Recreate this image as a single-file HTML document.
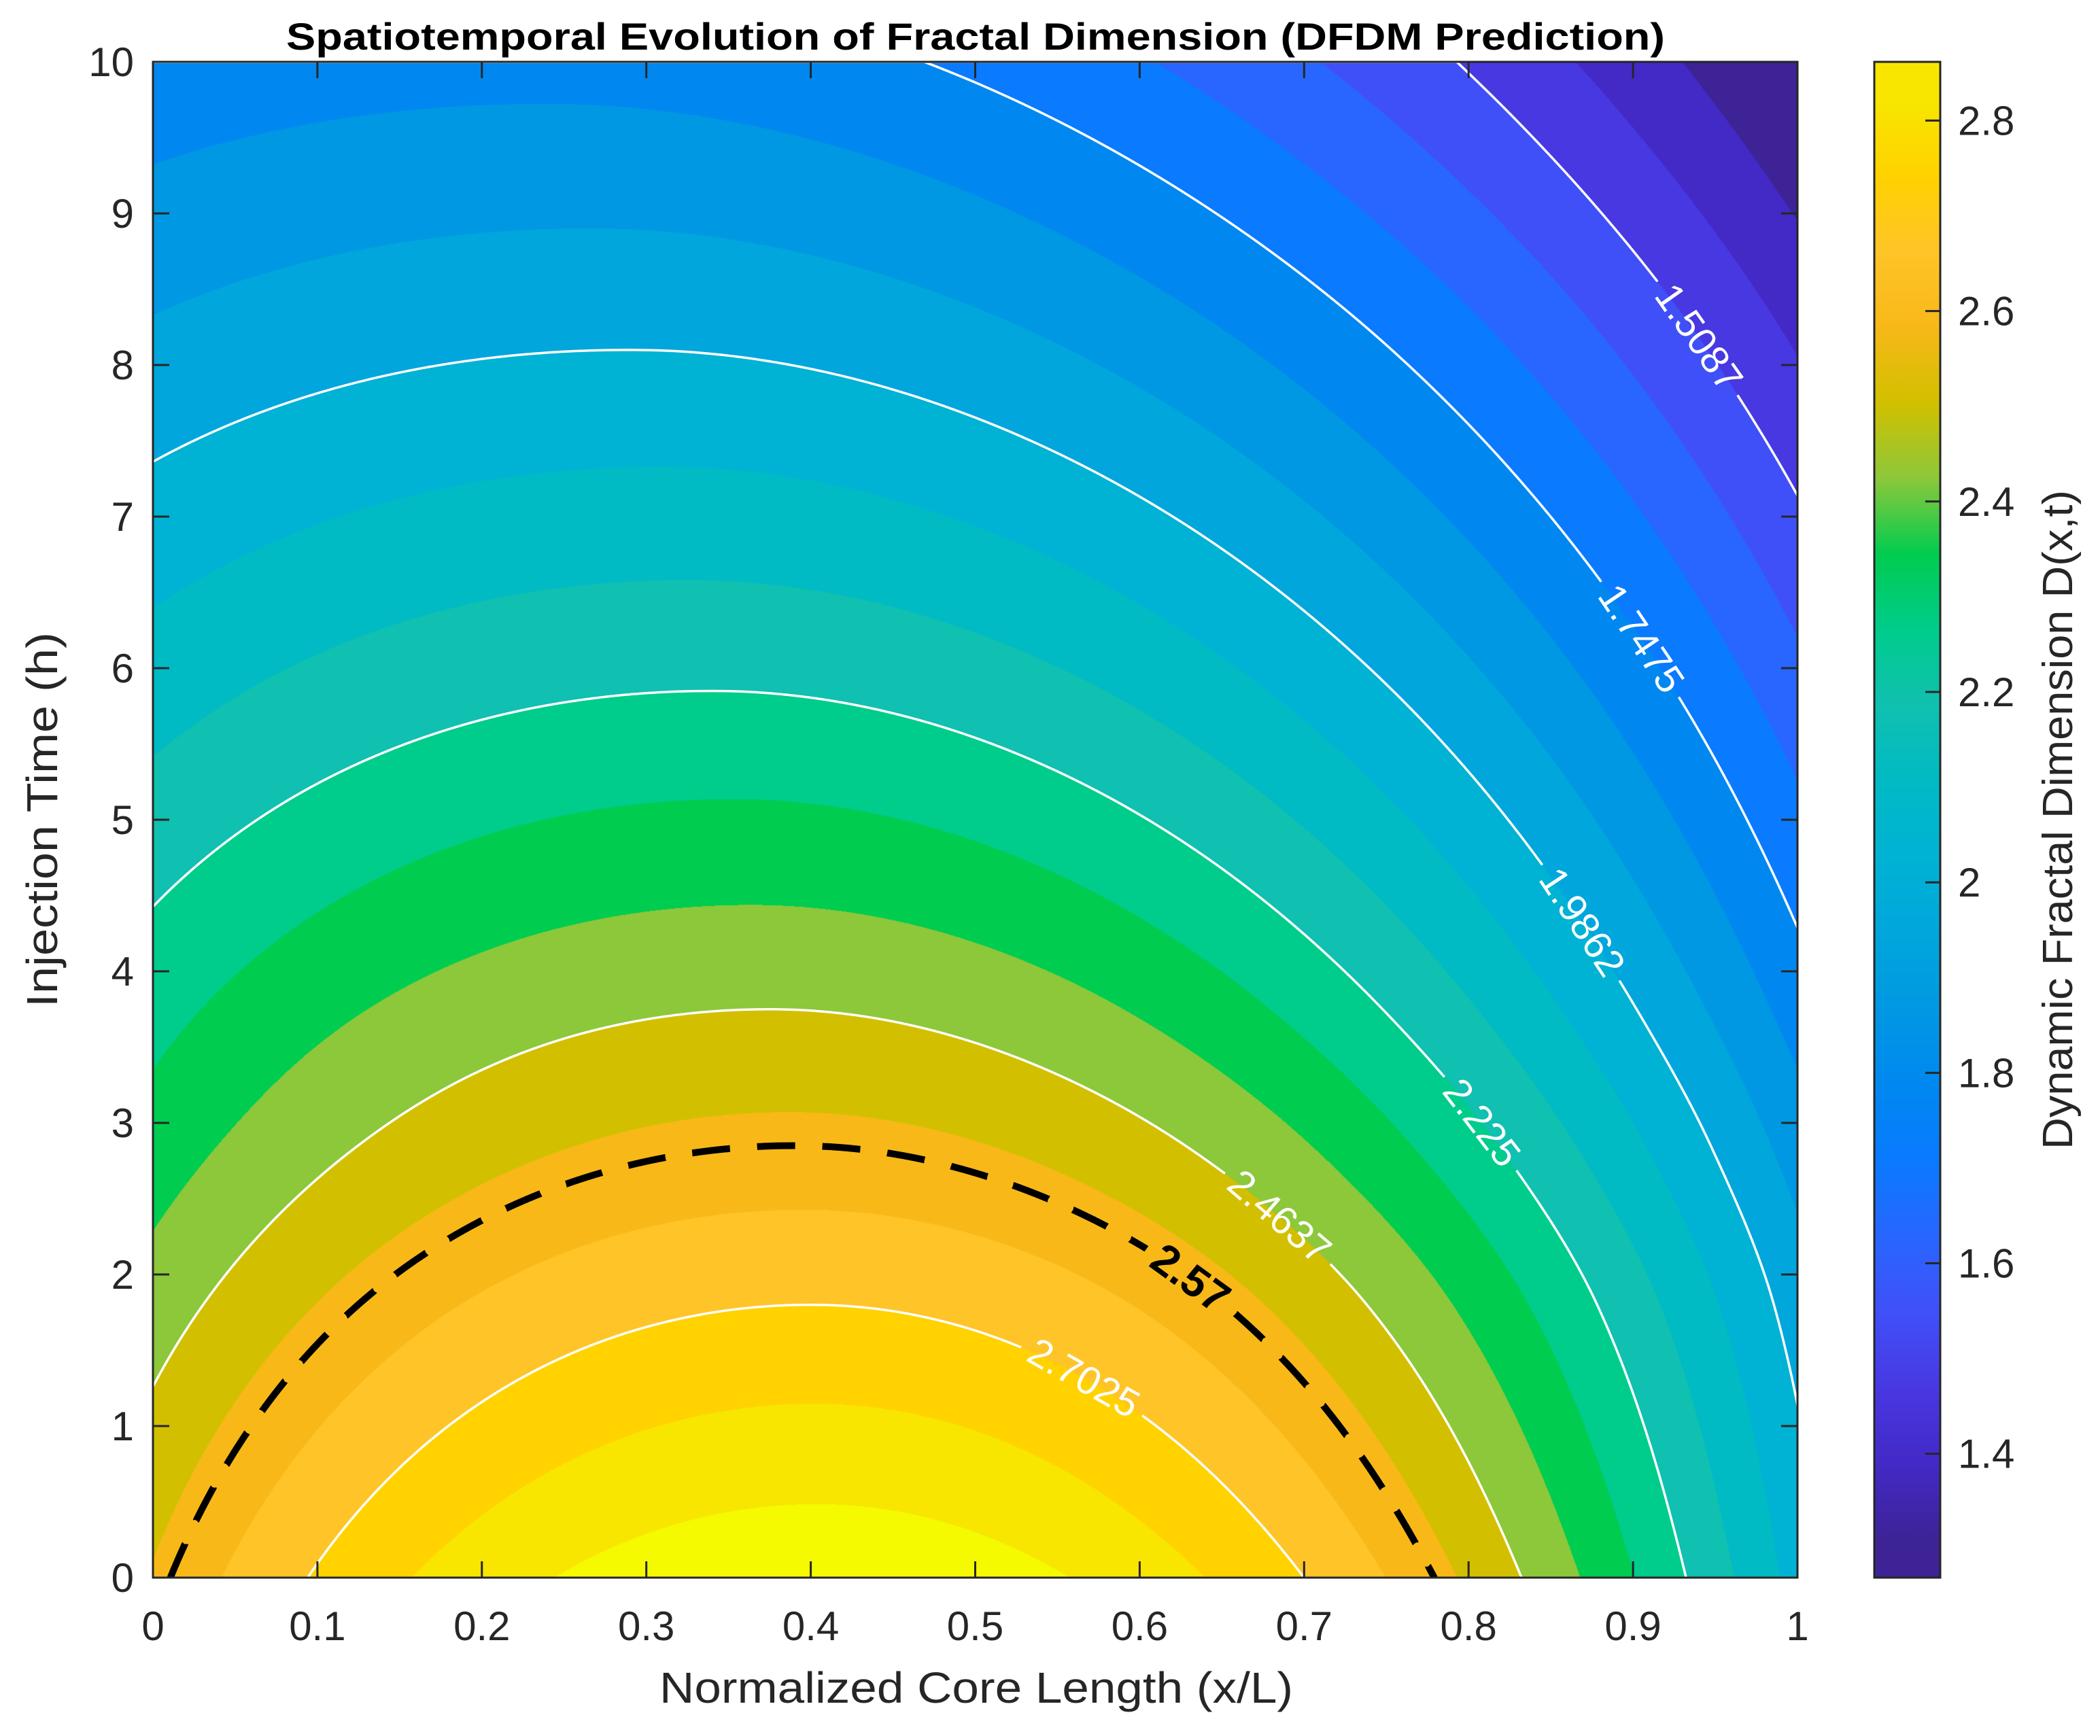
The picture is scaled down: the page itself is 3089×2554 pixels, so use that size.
<!DOCTYPE html>
<html><head><meta charset="utf-8"><style>
html,body{margin:0;padding:0;background:#fff;}
#wrap{position:relative;width:3089px;height:2554px;overflow:hidden;font-family:"Liberation Sans",Arial,sans-serif;}
#field{position:absolute;left:225px;top:91px;}
#ov{position:absolute;left:0;top:0;}
</style></head><body>
<div id="wrap">
<canvas id="field" width="2419" height="2230"></canvas>
<svg id="ov" width="3089" height="2554" xmlns="http://www.w3.org/2000/svg">
<defs>
<clipPath id="pc"><rect x="225" y="91" width="2419" height="2230"/></clipPath>
<mask id="lblmask" maskUnits="userSpaceOnUse" x="0" y="0" width="3089" height="2554"><rect x="0" y="0" width="3089" height="2554" fill="#fff"/><g id="maskholes"></g></mask>
<linearGradient id="cbgrad" x1="0" y1="1" x2="0" y2="0"></linearGradient>
</defs>
<text x="1435" y="73" text-anchor="middle" font-size="56" font-weight="bold" textLength="2028" lengthAdjust="spacingAndGlyphs" fill="#000">Spatiotemporal Evolution of Fractal Dimension (DFDM Prediction)</text>
<g id="lines" clip-path="url(#pc)"><g id="linesm" mask="url(#lblmask)"></g></g>
<g id="labels"></g>
<rect x="225" y="91" width="2419" height="2230" fill="none" stroke="#262626" stroke-width="3"/>
<g id="ticks"></g>
<text x="1436" y="2505" text-anchor="middle" font-size="64" fill="#262626" textLength="932" lengthAdjust="spacingAndGlyphs">Normalized Core Length (x/L)</text>
<text transform="translate(84,1206) rotate(-90)" text-anchor="middle" font-size="64" fill="#262626" textLength="552" lengthAdjust="spacingAndGlyphs">Injection Time (h)</text>
<rect x="2757" y="91" width="97" height="2230" fill="url(#cbgrad)" stroke="#262626" stroke-width="3"/>
<g id="cbticks"></g>
<text transform="translate(3048,1206) rotate(-90)" text-anchor="middle" font-size="62" fill="#262626" textLength="970" lengthAdjust="spacingAndGlyphs">Dynamic Fractal Dimension D(x,t)</text>
</svg>
</div>
<script>
// ---- data ----
const xTicks = [0,0.1,0.2,0.3,0.4,0.5,0.6,0.7,0.8,0.9,1];
const xTickLabels = ["0","0.1","0.2","0.3","0.4","0.5","0.6","0.7","0.8","0.9","1"];
const yTicks = [0,1,2,3,4,5,6,7,8,9,10];
const yTickLabels = ["0","1","2","3","4","5","6","7","8","9","10"];
const cbTicks = [1.4,1.6,1.8,2.0,2.2,2.4,2.6,2.8];
const cbTickLabels = ["1.4","1.6","1.8","2","2.2","2.4","2.6","2.8"];
// ridge of the surface: time, ridge value, ridge position
const ridgeT = [0,1.8,2.85,3.75,5.85,8.1,10];
const ridgeD = [2.92,2.7025,2.57,2.4637,2.225,1.9862,1.80];
const ridgeX = [0.405,0.40,0.39,0.375,0.34,0.29,0.23];
// curvature on each side of the ridge (value at t=0, decay per hour)
const curvLeft = [2.25,0.14];
const curvRight = [2.5,0.1];
const levelMin = 1.2699, levelMax = 2.8617, levelCount = 20;
const lineLevels = [1.5087,1.7475,1.9862,2.225,2.4637,2.7025];
const lineLabelX = [0.94,0.905,0.869,0.808,0.685,0.566];
const dashLevel = 2.57, dashLabelX = 0.631;
const bandColors = ["#3d2396","#4329c6","#4838e2","#4050f8","#2866ff","#0a7aff","#0088f0","#0098e2","#00a6dc","#00b2d4","#00bac4","#10c0b0","#00cc8c","#00cc50","#8cc83a","#d2c000","#f8b818","#ffc428","#ffd200","#f8e600","#f5fa00"];

const PX=225, PY=91, PW=2419, PH=2230, XMIN=0, XMAX=1, TMIN=0, TMAX=10;
const sx = x => PX + (x-XMIN)/(XMAX-XMIN)*PW;
const sy = t => PY + PH - (t-TMIN)/(TMAX-TMIN)*PH;
const NS="http://www.w3.org/2000/svg";
// monotone cubic (Fritsch-Carlson) interpolation
function makeSpline(xs,ys){
  const n=xs.length, dx=[], m=[], s=[];
  for(let i=0;i<n-1;i++){dx.push(xs[i+1]-xs[i]); s.push((ys[i+1]-ys[i])/dx[i]);}
  m[0]=s[0]; m[n-1]=s[n-2];
  for(let i=1;i<n-1;i++){ m[i]=(s[i-1]*s[i]<=0)?0:3*(dx[i-1]+dx[i])/((2*dx[i]+dx[i-1])/s[i-1]+(dx[i]+2*dx[i-1])/s[i]); }
  return function(v){
    if(v<=xs[0]) return ys[0]+(v-xs[0])*m[0];
    if(v>=xs[n-1]) return ys[n-1]+(v-xs[n-1])*m[n-1];
    let i=0; while(v>xs[i+1]) i++;
    const h=dx[i], u=(v-xs[i])/h, u2=u*u, u3=u2*u;
    return (2*u3-3*u2+1)*ys[i]+(u3-2*u2+u)*h*m[i]+(-2*u3+3*u2)*ys[i+1]+(u3-u2)*h*m[i+1];
  };
}
const A = makeSpline(ridgeT,ridgeD);
const XC = makeSpline(ridgeT,ridgeX);
const BL = t => curvLeft[0]*Math.exp(-curvLeft[1]*t);
const BR = t => curvRight[0]*Math.exp(-curvRight[1]*t);
const dL = (levelMax-levelMin)/levelCount;

// ---- filled field ----
(function(){
  const cv=document.getElementById('field'), ctx=cv.getContext('2d');
  const img=ctx.createImageData(PW,PH), px=img.data;
  const rgb=bandColors.map(h=>[parseInt(h.substr(1,2),16),parseInt(h.substr(3,2),16),parseInt(h.substr(5,2),16)]);
  for(let j=0;j<PH;j++){
    const t=TMAX-(j+0.5)/PH*(TMAX-TMIN), a=A(t), xc=XC(t), bl=BL(t), br=BR(t);
    for(let i=0;i<PW;i++){
      const x=(i+0.5)/PW, d=x-xc, D=a-(d<0?bl:br)*d*d;
      let k=Math.floor((D-levelMin)/dL); if(k<0)k=0; if(k>20)k=20;
      const c=rgb[k], o=(j*PW+i)*4; px[o]=c[0];px[o+1]=c[1];px[o+2]=c[2];px[o+3]=255;
    }
  }
  ctx.putImageData(img,0,0);
})();

// ---- contour lines ----
function topT(L){ if(A(TMAX)>=L) return TMAX; let lo=0,hi=TMAX; for(let k=0;k<60;k++){const m=(lo+hi)/2; if(A(m)>L) lo=m; else hi=m;} return lo; }
function branchPts(L){
  const left=[], right=[], tEnd=topT(L), N=4000;
  for(let s=0;s<=N;s++){
    const t=tEnd*s/N, r=Math.max(0,A(t)-L);
    left.push([XC(t)-Math.sqrt(r/BL(t)),t]); right.push([XC(t)+Math.sqrt(r/BR(t)),t]);
  }
  return left.concat(right.reverse());
}
function rightX(L,t){ return XC(t)+Math.sqrt(Math.max(0,A(t)-L)/BR(t)); }
function labelT(L,x){ let lo=0,hi=topT(L); for(let k=0;k<60;k++){const m=(lo+hi)/2; if(rightX(L,m)>x) lo=m; else hi=m;} return (lo+hi)/2; }
const linesG=document.getElementById('linesm'), labG=document.getElementById('labels'), holes=document.getElementById('maskholes');
function addLine(L,dashed,idx){
  const pts=branchPts(L).map(p=>sx(p[0]).toFixed(1)+','+sy(p[1]).toFixed(1)).join(' ');
  const pl=document.createElementNS(NS,'polyline');
  pl.setAttribute('points',pts); pl.setAttribute('fill','none');
  pl.setAttribute('stroke',dashed?'#000':'#fff'); pl.setAttribute('stroke-width',dashed?'10':'3.5');
  if(dashed) pl.setAttribute('stroke-dasharray','56 40');
  pl.setAttribute('stroke-linejoin','round');
  
  
  linesG.appendChild(pl);
}
function addLabel(L,x,text,dashed,idx){
  const t=labelT(L,x);
  const p1=[sx(rightX(L,t+0.05)),sy(t+0.05)], p2=[sx(rightX(L,t-0.05)),sy(t-0.05)];
  let ang=Math.atan2(p2[1]-p1[1],p2[0]-p1[0])*180/Math.PI; if(ang>90)ang-=180; if(ang<-90)ang+=180;
  const cx=sx(rightX(L,t)), cy=sy(t);
  const fs=dashed?64:58, w=text.length*fs*0.53+20, h=fs*0.9;
  const hole=document.createElementNS(NS,'rect');
  hole.setAttribute('x',-w/2); hole.setAttribute('y',-h/2); hole.setAttribute('width',w); hole.setAttribute('height',h); hole.setAttribute('fill','#000');
  hole.setAttribute('transform','translate('+cx+','+cy+') rotate('+ang+')');
  holes.appendChild(hole);
  const tx=document.createElementNS(NS,'text');
  tx.setAttribute('transform','translate('+cx+','+cy+') rotate('+ang+')');
  tx.setAttribute('text-anchor','middle'); tx.setAttribute('dominant-baseline','central');
  tx.setAttribute('font-size',fs); tx.setAttribute('fill',dashed?'#000':'#fff');
  if(dashed) tx.setAttribute('font-weight','bold');
  
  
  tx.textContent=text; labG.appendChild(tx);
}
lineLevels.forEach((L,i)=>{ addLine(L,false,i); addLabel(L,lineLabelX[i],String(L),false,i); });
addLine(dashLevel,true,0); addLabel(dashLevel,dashLabelX,String(dashLevel),true,0);

// ---- ticks ----
const tg=document.getElementById('ticks');
function ln(g,x1,y1,x2,y2,name){const l=document.createElementNS(NS,'line');l.setAttribute('x1',x1);l.setAttribute('y1',y1);l.setAttribute('x2',x2);l.setAttribute('y2',y2);l.setAttribute('stroke','#262626');l.setAttribute('stroke-width','3');


g.appendChild(l);}
function tx(g,x,y,s,anchor,name){const t=document.createElementNS(NS,'text');t.setAttribute('x',x);t.setAttribute('y',y);t.setAttribute('text-anchor',anchor);t.setAttribute('font-size','60');t.setAttribute('fill','#262626');t.textContent=s;


g.appendChild(t);}
xTicks.forEach((v,i)=>{const X=sx(v); ln(tg,X,PY+PH,X,PY+PH-24,'x-tick'); ln(tg,X,PY,X,PY+24,'x-tick-top'); tx(tg,X,2413,xTickLabels[i],'middle','x-tick-label');});
yTicks.forEach((v,i)=>{const Y=sy(v); ln(tg,PX,Y,PX+24,Y,'y-tick'); ln(tg,PX+PW,Y,PX+PW-24,Y,'y-tick-right'); tx(tg,197,Y+21,yTickLabels[i],'end','y-tick-label');});

// ---- colorbar ----
const grad=document.getElementById('cbgrad');
bandColors.forEach((c,k)=>{ if(k>=levelCount) return; const st=document.createElementNS(NS,'stop'); st.setAttribute('offset',((k+0.5)/levelCount).toFixed(4)); st.setAttribute('stop-color',c); grad.appendChild(st); });
const cg=document.getElementById('cbticks');
const cby = v => 91 + 2230 - (v-levelMin)/(levelMax-levelMin)*2230;
cbTicks.forEach((v,i)=>{const Y=cby(v); ln(cg,2854,Y,2832,Y,'colorbar-tick'); tx(cg,2880,Y+21,cbTickLabels[i],'start','colorbar-tick-label');});
</script>
</body></html>
